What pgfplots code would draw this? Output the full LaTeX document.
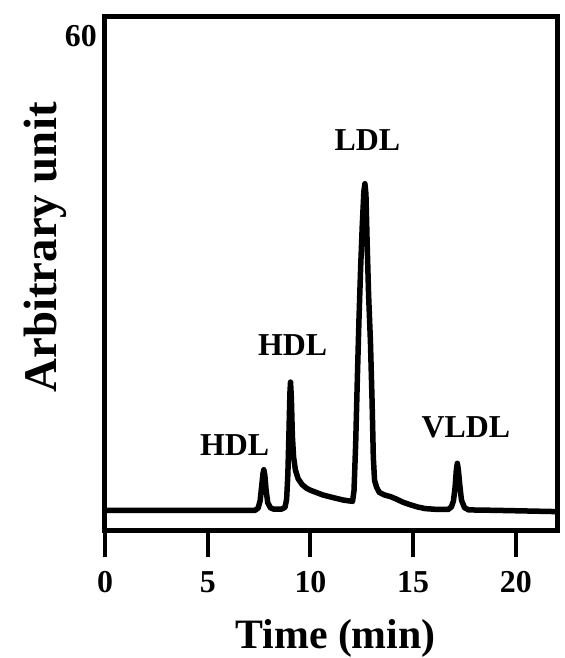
\documentclass[border=0pt]{standalone}
\usepackage{fontspec}
\setmainfont{Liberation Serif}
\usepackage{pgfplots}
\pgfplotsset{compat=1.18}

% chromatogram trace
\pgfplotstableread{
t     y
0     2.30
7.30  2.30
7.45  2.55
7.55  3.40
7.63  5.20
7.69  6.60
7.73  7.05
7.78  6.40
7.84  4.70
7.92  3.20
8.05  2.60
8.20  2.45
8.60  2.45
8.76  2.65
8.84  3.60
8.90  6.50
8.95  11.0
9.00  16.0
9.03  17.3
9.07  15.5
9.12  11.0
9.18  8.50
9.27  7.00
9.40  6.00
9.60  5.30
9.80  4.90
10.0  4.65
10.6  4.10
11.0  3.85
11.6  3.50
12.05 3.35
12.12 4.60
12.20 10.0
12.28 17.5
12.36 24.5
12.44 30.5
12.52 35.5
12.60 39.6
12.65 40.5
12.70 39.3
12.76 33.5
12.83 27.5
12.92 22.0
13.00 15.0
13.06 8.50
13.12 5.80
13.22 5.00
13.35 4.40
13.60 4.10
13.90 3.90
14.20 3.60
14.50 3.25
14.80 3.00
15.20 2.70
15.60 2.50
16.20 2.40
16.70 2.40
16.86 2.70
16.96 3.40
17.04 5.00
17.10 7.00
17.15 7.80
17.20 7.00
17.27 5.20
17.35 3.50
17.50 2.60
17.70 2.35
19.00 2.30
22.00 2.15
}\trace

\begin{document}
\begin{tikzpicture}
\begin{axis}[
  at={(0,0)}, anchor=south west,
  width=452bp, height=513bp, scale only axis,
  xmin=0, xmax=22, ymin=0, ymax=60,
  axis line style={line width=5bp, line cap=rect},
  xtick={0,5,10,15,20}, ytick={60},
  xtick pos=bottom, ytick pos=left,
  tick align=outside,
  major tick length=27bp,
  xtick style={line width=4bp, black},
  ytick style={draw=none},
  /pgf/number format/assume math mode=true,
  ticklabel style={font=\fontsize{32}{33}\selectfont\bfseries},
  yticklabel style={anchor=north east, inner sep=0pt, xshift=19bp, yshift=-8bp},
  xticklabel style={anchor=north, inner sep=0pt, yshift=-14bp},
  xlabel={Time (min)},
  xlabel style={at={(rel axis cs:0.51,0)}, anchor=base, yshift=-118bp,
    font=\fontsize{42}{43}\selectfont\bfseries},
  ylabel={Arbitrary unit},
  ylabel style={at={([xshift=-48bp]rel axis cs:0,0.551)}, anchor=base,
    font=\fontsize{47}{48}\selectfont\bfseries},
]
\addplot[black, line width=5.5bp, line join=round] table[x=t, y=y] {\trace};
\node[font=\fontsize{32}{33}\selectfont\bfseries] at (axis cs:12.77,45.6) {LDL};
\node[font=\fontsize{32}{33}\selectfont\bfseries] at (axis cs:9.13,21.6) {HDL};
\node[font=\fontsize{32}{33}\selectfont\bfseries] at (axis cs:6.31,9.9) {HDL};
\node[font=\fontsize{32}{33}\selectfont\bfseries] at (axis cs:17.57,12.05) {VLDL};
\end{axis}
\pgfresetboundingbox
\path[use as bounding box] (-105bp,-128bp) rectangle (460bp,530bp);
\end{tikzpicture}
\end{document}
